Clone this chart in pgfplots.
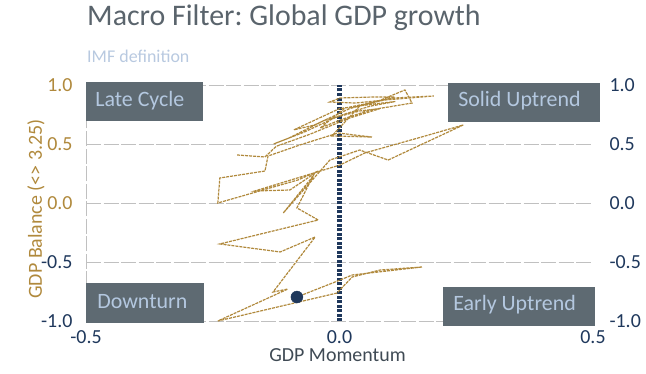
\documentclass[border=0pt]{standalone}
\usepackage{pgfplots}
\pgfplotsset{compat=1.18}
\usepackage{fontspec}
\setmainfont{Carlito}
\frenchspacing
\definecolor{tanc}{RGB}{176,137,60}
\definecolor{navy}{RGB}{31,56,92}
\definecolor{boxc}{RGB}{94,106,114}
\definecolor{boxt}{RGB}{180,200,224}
\definecolor{titlec}{RGB}{90,100,108}
\definecolor{subc}{RGB}{184,201,224}
\definecolor{gridc}{RGB}{192,192,192}
\definecolor{xlab}{RGB}{63,74,84}
\begin{document}
\begin{tikzpicture}
\begin{axis}[
  scale only axis, width=507bp, height=236bp,
  xmin=-0.5, xmax=0.5, ymin=-1, ymax=1,
  clip=false,
  axis x line*=bottom, axis y line*=left,
  x axis line style={draw=none},
  y axis line style={gridc, line width=0.8bp, dash pattern=on 15bp off 2.5bp},
  major tick length=0pt,
  ymajorgrids,
  grid style={gridc, line width=0.8bp, dash pattern=on 15bp off 2.5bp},
  xtick={-0.5,0,0.5},
  xticklabels={-0.5,0.0,0.5},
  xticklabel style={text=navy, font=\fontsize{20}{24}\selectfont, anchor=base, yshift=-22bp},
  ytick={-1,-0.5,0,0.5,1},
  yticklabels={\textcolor{navy}{-1.0},\textcolor{navy}{-0.5},\textcolor{tanc}{0.0},\textcolor{tanc}{0.5},\textcolor{tanc}{1.0}},
  yticklabel style={font=\fontsize{20}{24}\selectfont, xshift=-10bp},
]
\addplot[navy, line width=5bp, dash pattern=on 3bp off 1.5bp] coordinates {(0,-1) (0,1)};
\addplot[tanc, line width=1.2bp, dash pattern=on 3bp off 1bp] coordinates {
(-0.202,0.407) (-0.147,0.390) (-0.125,0.480) (-0.060,0.580) (0.020,0.720)
(0.080,0.800) (0.040,0.780) (-0.030,0.700) (-0.100,0.550) (-0.130,0.500)
(-0.070,0.600) (0.000,0.740) (0.060,0.820) (0.110,0.860) (0.070,0.840)
(0.000,0.800) (-0.040,0.720) (-0.090,0.620) (-0.050,0.660) (0.020,0.800)
(0.080,0.870)
(0.129,0.958) (0.143,0.847) (0.060,0.788) (0.001,0.703) (-0.038,0.636)
(0.011,0.805) (0.109,0.890) (0.186,0.907) (0.090,0.873) (0.031,0.847)
(-0.019,0.856) (0.001,0.890) (0.064,0.898) (0.109,0.898) (0.040,0.822)
(-0.015,0.568) (0.064,0.559) (-0.003,0.593) (-0.078,0.492) (-0.141,0.398)
(-0.147,0.271) (-0.236,0.212) (-0.240,0.000) (-0.082,0.195) (-0.042,0.271)
(-0.098,0.110) (-0.167,0.102) (0.001,0.322) (0.050,0.424) (0.169,0.568)
(0.244,0.661) (0.096,0.364) (0.040,0.449) (-0.019,0.364) (-0.111,-0.085)
(-0.052,0.229) (-0.084,-0.042) (-0.042,-0.144) (-0.236,-0.347) (-0.117,-0.415)
(-0.048,-0.288) (-0.131,-0.754) (-0.102,-0.729) (-0.240,-1.000) (-0.005,-0.763)
(0.025,-0.627) (0.080,-0.568) (0.163,-0.542) (0.076,-0.585) (0.025,-0.610)
(0.001,-0.653) (-0.084,-0.797)
};
\addplot[only marks, mark=*, mark size=6bp, navy] coordinates {(-0.084,-0.797)};
% quadrant boxes
\fill[boxc] (axis cs:-0.5,1.025) rectangle (axis cs:-0.269,0.695);
\node[anchor=base west, inner sep=0, text=boxt, font=\fontsize{22}{26}\selectfont] at (axis cs:-0.482,0.822) {Late Cycle};
\fill[boxc] (axis cs:0.214,1.017) rectangle (axis cs:0.514,0.686);
\node[anchor=base west, inner sep=0, text=boxt, font=\fontsize{22}{26}\selectfont] at (axis cs:0.234,0.814) {Solid Uptrend};
\fill[boxc] (axis cs:-0.5,-0.678) rectangle (axis cs:-0.267,-1.017);
\node[anchor=base west, inner sep=0, text=boxt, font=\fontsize{22}{26}\selectfont] at (axis cs:-0.478,-0.890) {Downturn};
\fill[boxc] (axis cs:0.204,-0.712) rectangle (axis cs:0.504,-1.042);
\node[anchor=base west, inner sep=0, text=boxt, font=\fontsize{22}{26}\selectfont] at (axis cs:0.224,-0.915) {Early Uptrend};
% titles and labels
\path (rel axis cs:0,1) ++(1bp,59bp) node[anchor=base west, inner sep=0, text=titlec, font=\fontsize{30}{34}\selectfont] {Macro Filter: Global GDP growth};
\path (rel axis cs:0,1) ++(1bp,22bp) node[anchor=base west, inner sep=0, text=subc, font=\fontsize{18}{21}\selectfont] {IMF definition};
\path (rel axis cs:0,0.5) ++(-50bp,-6bp) node[rotate=90, inner sep=0, text=tanc, font=\fontsize{20}{24}\selectfont] {GDP Balance (<> 3.25)};
\path (rel axis cs:0.5,0) ++(-2bp,-40bp) node[anchor=base, inner sep=0, text=xlab, font=\fontsize{20}{24}\selectfont] {GDP Momentum};
\coordinate (ll) at (rel axis cs:0,0);
\coordinate (ur) at (rel axis cs:1,1);
\end{axis}
\begin{axis}[
  scale only axis, width=507bp, height=236bp,
  xmin=-0.5, xmax=0.5, ymin=-1, ymax=1,
  axis x line=none, axis y line*=right,
  y axis line style={draw=none},
  major tick length=0pt,
  ytick={-1,-0.5,0,0.5,1},
  yticklabels={-1.0,-0.5,0.0,0.5,1.0},
  yticklabel style={text=navy, font=\fontsize{20}{24}\selectfont, xshift=13bp},
]
\addplot[draw=none] coordinates {(0,0)};
\end{axis}
\path (ll) ++(-86bp,-52bp) coordinate (bl);
\path (ur) ++(53bp,85bp) coordinate (tr);
\pgfresetboundingbox
\path[use as bounding box] (bl) rectangle (tr);
\end{tikzpicture}
\end{document}
